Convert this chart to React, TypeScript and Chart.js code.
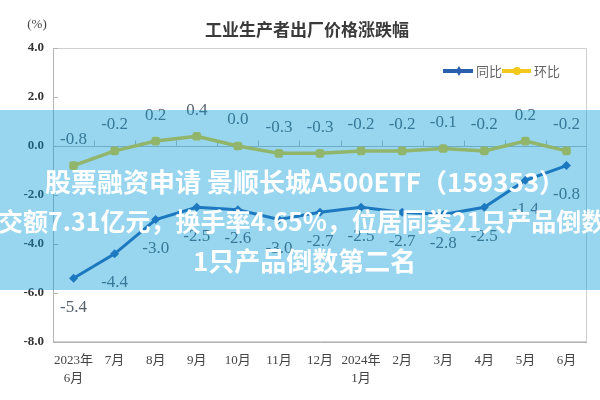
import React, { useEffect, useRef } from 'react';
import { Chart, registerables } from 'chart.js';

Chart.register(...registerables);

const categories: (string | string[])[] = [
  ['2023年', '6月'], '7月', '8月', '9月', '10月', '11月', '12月',
  ['2024年', '1月'], '2月', '3月', '4月', '5月', '6月',
];
const yoyValues = [-5.4, -4.4, -3.0, -2.5, -2.6, -3.0, -2.7, -2.5, -2.7, -2.8, -2.5, -1.4, -0.8];
const momValues = [-0.8, -0.2, 0.2, 0.4, 0.0, -0.3, -0.3, -0.2, -0.2, -0.1, -0.2, 0.2, -0.2];
const seriesNames = ['同比', '环比'];
const chartTitle = '工业生产者出厂价格涨跌幅';
const unitLabel = '(%)';
const yMin = -8;
const yMax = 4;
const yStep = 2;
const overlayLines = [
  '股票融资申请 景顺长城A500ETF（159353）',
  '成交额7.31亿元，换手率4.65%，位居同类21只产品倒数第二名',
  '1只产品倒数第二名',
];

const BLUE = '#2a5fae';
const YELLOW = '#f3c81c';

const decor = {
  id: 'decor',
  beforeDatasetsDraw(chart: any) {
    const { ctx, chartArea: a, scales } = chart;
    const x = scales.x;
    const y = scales.y;
    ctx.save();
    ctx.lineWidth = 1;
    ctx.strokeStyle = '#cfcfcf';
    ctx.strokeRect(a.left + 0.5, a.top + 0.5, a.right - a.left - 1, a.bottom - a.top - 1);
    ctx.strokeStyle = '#b4b4b4';
    ctx.beginPath();
    ctx.moveTo(a.left + 0.5, a.top);
    ctx.lineTo(a.left + 0.5, a.bottom + 0.5);
    ctx.lineTo(a.right, a.bottom + 0.5);
    ctx.stroke();
    ctx.beginPath();
    y.ticks.forEach((t: any) => {
      const py = Math.round(y.getPixelForValue(t.value)) + 0.5;
      ctx.moveTo(a.left, py);
      ctx.lineTo(a.left + 5, py);
    });
    ctx.stroke();
    const zy = Math.round(y.getPixelForValue(0)) + 0.5;
    ctx.strokeStyle = '#b8b8b8';
    ctx.beginPath();
    ctx.moveTo(a.left, zy);
    ctx.lineTo(a.right, zy);
    for (let i = 1; i < categories.length; i++) {
      const bx = Math.round((x.getPixelForValue(i - 1) + x.getPixelForValue(i)) / 2) + 0.5;
      ctx.moveTo(bx, zy - 6);
      ctx.lineTo(bx, zy);
    }
    ctx.stroke();
    ctx.restore();
  },
  afterDatasetsDraw(chart: any) {
    const { ctx } = chart;
    ctx.save();
    ctx.font = '17px "Liberation Serif"';
    ctx.fillStyle = '#56606b';
    ctx.textAlign = 'center';
    ctx.textBaseline = 'middle';
    const yoyMeta = chart.getDatasetMeta(0);
    yoyMeta.data.forEach((p: any, i: number) => {
      ctx.fillText(yoyValues[i].toFixed(1), p.x, p.y + 29);
    });
    const momMeta = chart.getDatasetMeta(1);
    momMeta.data.forEach((p: any, i: number) => {
      ctx.fillText(momValues[i].toFixed(1), p.x, p.y - 26);
    });
    ctx.restore();
  },
  afterDraw(chart: any) {
    const { ctx } = chart;
    ctx.save();
    ctx.fillStyle = '#3a3a3a';
    ctx.font = 'bold 17px "Noto Sans CJK SC"';
    ctx.textAlign = 'center';
    ctx.textBaseline = 'middle';
    ctx.fillText(chartTitle, 307, 30);
    ctx.font = '13px "Liberation Serif"';
    ctx.fillStyle = '#444';
    ctx.fillText(unitLabel, 37, 25);
    ctx.lineWidth = 4;
    ctx.strokeStyle = BLUE;
    ctx.beginPath();
    ctx.moveTo(443, 71);
    ctx.lineTo(473, 71);
    ctx.stroke();
    ctx.fillStyle = BLUE;
    ctx.beginPath();
    ctx.moveTo(459, 66);
    ctx.lineTo(462, 71);
    ctx.lineTo(459, 76);
    ctx.lineTo(456, 71);
    ctx.closePath();
    ctx.fill();
    ctx.strokeStyle = YELLOW;
    ctx.beginPath();
    ctx.moveTo(502, 71);
    ctx.lineTo(531, 71);
    ctx.stroke();
    ctx.fillStyle = YELLOW;
    ctx.beginPath();
    ctx.arc(517, 71, 4, 0, Math.PI * 2);
    ctx.fill();
    ctx.font = '13px "Noto Sans CJK SC"';
    ctx.fillStyle = '#666';
    ctx.textAlign = 'left';
    ctx.fillText(seriesNames[0], 476, 71);
    ctx.fillText(seriesNames[1], 534, 71);
    ctx.fillStyle = 'rgba(10,155,215,0.42)';
    ctx.fillRect(0, 110, 600, 180);
    ctx.fillStyle = '#ffffff';
    ctx.font = 'bold 26px "Noto Sans CJK SC"';
    ctx.textAlign = 'left';
    ctx.fillText(overlayLines[0], 45, 182);
    ctx.fillText(overlayLines[2], 193, 261);
    ctx.font = 'bold 25px "Noto Sans CJK SC"';
    ctx.fillText(overlayLines[1], -27, 221);
    ctx.restore();
  },
};

export default function App() {
  const ref = useRef<HTMLCanvasElement | null>(null);
  useEffect(() => {
    if (!ref.current) return;
    const chart = new Chart(ref.current, {
      type: 'line',
      data: {
        labels: categories as any,
        datasets: [
          {
            label: seriesNames[0],
            data: yoyValues,
            borderColor: BLUE,
            backgroundColor: BLUE,
            borderWidth: 3,
            pointStyle: 'rectRot',
            pointRadius: 4.5,
            pointBorderWidth: 0,
            tension: 0,
          },
          {
            label: seriesNames[1],
            data: momValues,
            borderColor: YELLOW,
            backgroundColor: YELLOW,
            borderWidth: 3.5,
            pointStyle: 'rectRounded',
            pointRadius: 5,
            pointBorderWidth: 0,
            tension: 0,
          },
        ],
      },
      options: {
        responsive: false,
        animation: false,
        layout: { padding: { top: 48, right: 13, left: 0, bottom: 0 } },
        plugins: {
          legend: { display: false },
          title: { display: false },
          tooltip: { enabled: false },
        },
        scales: {
          x: {
            type: 'category',
            offset: true,
            grid: { display: false, drawTicks: false },
            border: { display: false },
            ticks: {
              font: { family: '"Liberation Serif", "Noto Sans CJK SC"', size: 13, lineHeight: 1.4 },
              color: '#444',
              padding: 9,
              maxRotation: 0,
              autoSkip: false,
            },
            afterFit: (s: any) => { s.height = 58; },
          },
          y: {
            min: yMin,
            max: yMax,
            grid: { display: false, drawTicks: false },
            border: { display: false },
            ticks: {
              stepSize: yStep,
              font: { family: '"Liberation Serif"', size: 13, weight: 'bold' },
              color: '#333',
              padding: 9,
              callback: (v: any) => Number(v).toFixed(1),
            },
            afterFit: (s: any) => { s.width = 53; },
          },
        },
      },
      plugins: [decor],
    });
    return () => chart.destroy();
  }, []);
  return (
    <div style={{ position: 'absolute', left: 0, top: 0, width: 600, height: 400, background: '#fff' }}>
      <canvas ref={ref} width={600} height={400} style={{ display: 'block' }} />
    </div>
  );
}
